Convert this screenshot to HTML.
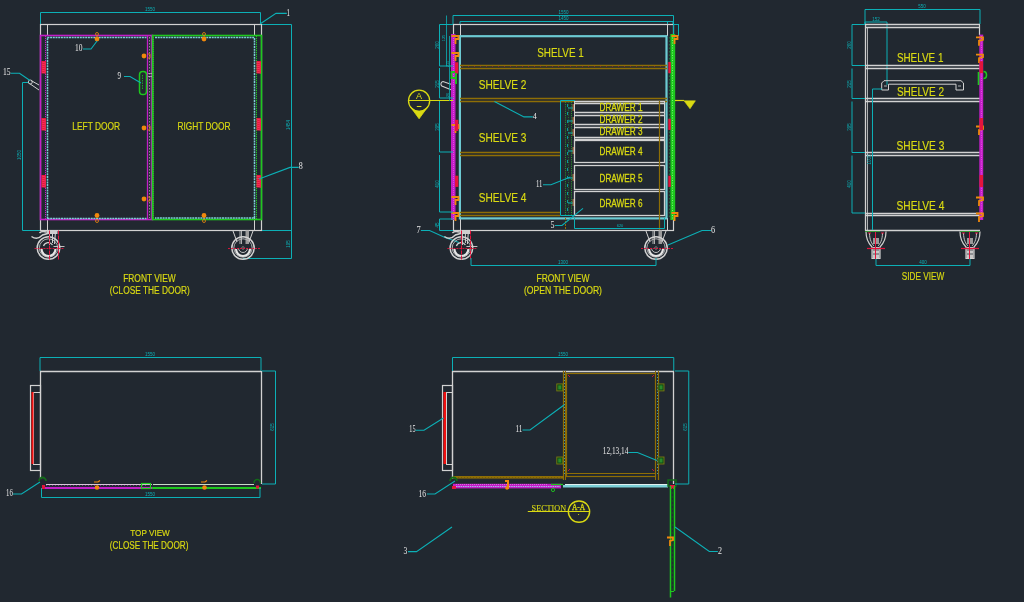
<!DOCTYPE html>
<html><head><meta charset="utf-8"><style>
html,body{margin:0;padding:0;background:#212830;width:1024px;height:602px;overflow:hidden}
svg{display:block;will-change:transform}
</style></head><body>
<svg width="1024" height="602" viewBox="0 0 1024 602">
<rect x="0" y="0" width="1024" height="602" fill="#212830"/>
<path d="M40.5,24 V12.5 H260.5 V24" stroke="#0cb0b6" stroke-width="1" fill="none" />
<text x="150" y="11" fill="#0cb0b6" font-size="4.5" font-family="Liberation Sans" text-anchor="middle" >1550</text>
<path d="M28,82.5 H22.5 V230.5 H40" stroke="#0cb0b6" stroke-width="1" fill="none" />
<text transform="translate(21,155) rotate(-90)" fill="#0cb0b6" font-size="4.5" font-family="Liberation Sans" text-anchor="middle">1050</text>
<path d="M262,24.5 H291.5 V258.5 H243 M262,230.5 H291.5" stroke="#0cb0b6" stroke-width="1" fill="none" />
<text transform="translate(290,125) rotate(-90)" fill="#0cb0b6" font-size="4.5" font-family="Liberation Sans" text-anchor="middle">1454</text>
<text transform="translate(290,244) rotate(-90)" fill="#0cb0b6" font-size="4.5" font-family="Liberation Sans" text-anchor="middle">195</text>
<rect x="40.5" y="24.5" width="221.0" height="206.0" stroke="#d2d2d2" stroke-width="1.2" fill="none" />
<line x1="47.5" y1="24.5" x2="47.5" y2="36" stroke="#d2d2d2" stroke-width="1" />
<line x1="47.5" y1="218" x2="47.5" y2="230.5" stroke="#d2d2d2" stroke-width="1" />
<line x1="254.5" y1="24.5" x2="254.5" y2="36" stroke="#d2d2d2" stroke-width="1" />
<line x1="254.5" y1="218" x2="254.5" y2="230.5" stroke="#d2d2d2" stroke-width="1" />
<rect x="40.5" y="35.5" width="112.0" height="184.0" stroke="#c21ec6" stroke-width="1.6" fill="none" />
<line x1="45.5" y1="36" x2="45.5" y2="219" stroke="#c21ec6" stroke-width="1" stroke-dasharray="1.2,0.8"/>
<path d="M47.5,218.5 V37.5 H146.5" stroke="#7ccfd6" stroke-width="1.5" fill="none" stroke-dasharray="2,0.7"/>
<line x1="47.5" y1="218.5" x2="146.5" y2="218.5" stroke="#7ccfd6" stroke-width="1.5" stroke-dasharray="2,0.7"/>
<line x1="147.5" y1="36" x2="147.5" y2="220" stroke="#c21ec6" stroke-width="1.3" />
<line x1="149.5" y1="37" x2="149.5" y2="218" stroke="#d2d2d2" stroke-width="0.6" stroke-dasharray="1.5,1.5"/>
<line x1="151.5" y1="36" x2="151.5" y2="220" stroke="#c21ec6" stroke-width="1.5" />
<rect x="152.5" y="35.5" width="109.0" height="184.0" stroke="#1ec81e" stroke-width="1.6" fill="none" />
<path d="M155,37.5 H254.5 V218 H155" stroke="#7ccfd6" stroke-width="1.5" fill="none" stroke-dasharray="2,0.7"/>
<line x1="153.5" y1="37" x2="153.5" y2="219" stroke="#1ec81e" stroke-width="1" stroke-dasharray="1.2,0.8"/>
<line x1="256.5" y1="36" x2="256.5" y2="219" stroke="#1ec81e" stroke-width="1" stroke-dasharray="1.2,0.8"/>
<rect x="41.5" y="61" width="4.5" height="12.5" fill="#e4143c" />
<path d="M41.5,62 l4.5,1.2 M41.5,64 l4.5,1.2 M41.5,66 l4.5,1.2 M41.5,68 l4.5,1.2 M41.5,70 l4.5,1.2 M41.5,72 l4.5,1.2" stroke="#ff5a7a" stroke-width="0.5" fill="none" />
<rect x="256.5" y="61" width="4.5" height="12.5" fill="#e4143c" />
<path d="M256.5,62 l4.5,1.2 M256.5,64 l4.5,1.2 M256.5,66 l4.5,1.2 M256.5,68 l4.5,1.2 M256.5,70 l4.5,1.2 M256.5,72 l4.5,1.2" stroke="#ff5a7a" stroke-width="0.5" fill="none" />
<rect x="41.5" y="118" width="4.5" height="12.5" fill="#e4143c" />
<path d="M41.5,119 l4.5,1.2 M41.5,121 l4.5,1.2 M41.5,123 l4.5,1.2 M41.5,125 l4.5,1.2 M41.5,127 l4.5,1.2 M41.5,129 l4.5,1.2" stroke="#ff5a7a" stroke-width="0.5" fill="none" />
<rect x="256.5" y="118" width="4.5" height="12.5" fill="#e4143c" />
<path d="M256.5,119 l4.5,1.2 M256.5,121 l4.5,1.2 M256.5,123 l4.5,1.2 M256.5,125 l4.5,1.2 M256.5,127 l4.5,1.2 M256.5,129 l4.5,1.2" stroke="#ff5a7a" stroke-width="0.5" fill="none" />
<rect x="41.5" y="175" width="4.5" height="12.5" fill="#e4143c" />
<path d="M41.5,176 l4.5,1.2 M41.5,178 l4.5,1.2 M41.5,180 l4.5,1.2 M41.5,182 l4.5,1.2 M41.5,184 l4.5,1.2 M41.5,186 l4.5,1.2" stroke="#ff5a7a" stroke-width="0.5" fill="none" />
<rect x="256.5" y="175" width="4.5" height="12.5" fill="#e4143c" />
<path d="M256.5,176 l4.5,1.2 M256.5,178 l4.5,1.2 M256.5,180 l4.5,1.2 M256.5,182 l4.5,1.2 M256.5,184 l4.5,1.2 M256.5,186 l4.5,1.2" stroke="#ff5a7a" stroke-width="0.5" fill="none" />
<circle cx="97" cy="39" r="2.4" stroke="#f0880c" stroke-width="0" fill="#f0880c" />
<circle cx="204" cy="39" r="2.4" stroke="#f0880c" stroke-width="0" fill="#f0880c" />
<circle cx="97" cy="215.5" r="2.4" stroke="#f0880c" stroke-width="0" fill="#f0880c" />
<circle cx="204" cy="215.5" r="2.4" stroke="#f0880c" stroke-width="0" fill="#f0880c" />
<circle cx="144" cy="56" r="2.4" stroke="#f0880c" stroke-width="0" fill="#f0880c" />
<circle cx="144" cy="128" r="2.4" stroke="#f0880c" stroke-width="0" fill="#f0880c" />
<circle cx="144" cy="199" r="2.4" stroke="#f0880c" stroke-width="0" fill="#f0880c" />
<circle cx="97" cy="34" r="1.5" stroke="#f0880c" stroke-width="0.8" fill="none" />
<circle cx="204" cy="34" r="1.5" stroke="#f0880c" stroke-width="0.8" fill="none" />
<circle cx="97" cy="221" r="1.5" stroke="#f0880c" stroke-width="0.8" fill="none" />
<circle cx="204" cy="221" r="1.5" stroke="#f0880c" stroke-width="0.8" fill="none" />
<path d="M147.5,54 h2.5 v4 h-2.5" stroke="#f0880c" stroke-width="0.8" fill="none" />
<path d="M147.5,126 h2.5 v4 h-2.5" stroke="#f0880c" stroke-width="0.8" fill="none" />
<path d="M147.5,197 h2.5 v4 h-2.5" stroke="#f0880c" stroke-width="0.8" fill="none" />
<rect x="139.5" y="71.5" width="7.0" height="23.0" stroke="#1ec81e" stroke-width="1.5" fill="none" rx="3.3"/>
<line x1="142.5" y1="75" x2="142.5" y2="90" stroke="#1ec81e" stroke-width="0.8" stroke-dasharray="1.5,1"/>
<path d="M148,73.5 h4 M148,76.5 h4" stroke="#d2d2d2" stroke-width="0.6" fill="none" />
<path d="M31,80.5 L39,85 M29.5,83.5 L39,90" stroke="#d2d2d2" stroke-width="1" fill="none" />
<circle cx="30.3" cy="82" r="2" stroke="#d2d2d2" stroke-width="0.9" fill="none" />
<text x="6.80" y="75.2" fill="#e6e6e6" font-size="9.39" font-family="Liberation Serif" text-anchor="middle" textLength="7.60" lengthAdjust="spacingAndGlyphs">15</text>
<path d="M10.6,73.2 L19.5,73.2 L30,80.5" stroke="#0cb0b6" stroke-width="1.1" fill="none" />
<text x="78.75" y="51.3" fill="#e6e6e6" font-size="9.39" font-family="Liberation Serif" text-anchor="middle" textLength="7.50" lengthAdjust="spacingAndGlyphs">10</text>
<path d="M83,49 L91,49 L97,41" stroke="#0cb0b6" stroke-width="1.1" fill="none" />
<text x="119.25" y="79" fill="#e6e6e6" font-size="9.39" font-family="Liberation Serif" text-anchor="middle" textLength="3.50" lengthAdjust="spacingAndGlyphs">9</text>
<path d="M124,76.5 L130,76.5 L141,83" stroke="#0cb0b6" stroke-width="1.1" fill="none" />
<text x="288.35" y="15.9" fill="#e6e6e6" font-size="9.39" font-family="Liberation Serif" text-anchor="middle" textLength="3.50" lengthAdjust="spacingAndGlyphs">1</text>
<path d="M260,24 L276,13.4 L286.8,13.4" stroke="#0cb0b6" stroke-width="1.1" fill="none" />
<text x="300.70" y="168.9" fill="#e6e6e6" font-size="9.39" font-family="Liberation Serif" text-anchor="middle" textLength="4.00" lengthAdjust="spacingAndGlyphs">8</text>
<path d="M259,179 L290,167.4 L298.7,167.4" stroke="#0cb0b6" stroke-width="1.1" fill="none" />
<circle cx="48.5" cy="248" r="11.3" stroke="#d2d2d2" stroke-width="1.5" fill="none" />
<circle cx="48.5" cy="248" r="9.2" stroke="#bdbdbd" stroke-width="0.9" fill="none" />
<path d="M41.5,249 A7,7 0 0 0 55.5,249" stroke="#e6e6e6" stroke-width="2.2" fill="none" />
<path d="M43.5,246 A5,5 0 0 1 52.5,245" stroke="#d2d2d2" stroke-width="1.2" fill="none" />
<path d="M49.5,230.5 V245 M52.5,230.5 V243 M55.5,231.5 L54.5,244" stroke="#d2d2d2" stroke-width="1" fill="none" />
<rect x="46.5" y="230.5" width="11" height="3.5" fill="#cfcfcf" />
<path d="M31.5,236.5 Q37.5,240.5 42.5,235 L49.5,233 M39.5,233 Q41.5,230.5 46.5,232" stroke="#d2d2d2" stroke-width="1.5" fill="none" />
<line x1="53.5" y1="246.5" x2="64.5" y2="246.5" stroke="#d2d2d2" stroke-width="0.9" />
<line x1="34.5" y1="248.5" x2="64.5" y2="248.5" stroke="#e4143c" stroke-width="0.9" stroke-dasharray="2,1"/>
<line x1="49.5" y1="230.5" x2="49.5" y2="260" stroke="#e4143c" stroke-width="1" stroke-dasharray="4,1"/>
<line x1="58.5" y1="230.5" x2="58.5" y2="260" stroke="#e4143c" stroke-width="1" stroke-dasharray="4,1"/>
<path d="M233,231.0 L237,242 M253,231.0 L249,242" stroke="#d2d2d2" stroke-width="1" fill="none" />
<path d="M240,230.5 V244 M241.5,230.5 V244" stroke="#d2d2d2" stroke-width="0.8" fill="none" />
<rect x="245.5" y="230.5" width="3.5" height="13.5" fill="#9a9a9a" />
<circle cx="243" cy="248" r="11.2" stroke="#d2d2d2" stroke-width="1.5" fill="none" />
<circle cx="243" cy="248" r="9.2" stroke="#bdbdbd" stroke-width="0.9" fill="none" />
<path d="M236,249 A7,7 0 0 0 250,249" stroke="#e6e6e6" stroke-width="2.2" fill="none" />
<path d="M238.5,248 A4.5,4.5 0 0 0 247.5,248" stroke="#d2d2d2" stroke-width="0.9" fill="none" />
<circle cx="243" cy="248" r="1.3" stroke="#888" stroke-width="0.8" fill="none" />
<line x1="228" y1="248.5" x2="261" y2="248.5" stroke="#e4143c" stroke-width="0.9" stroke-dasharray="2,1"/>
<text x="96.20" y="129.70" fill="#dada12" stroke="#dada12" stroke-width="0.18" font-size="11.19" font-family="Liberation Sans" text-anchor="middle" textLength="47.80" lengthAdjust="spacingAndGlyphs">LEFT DOOR</text>
<text x="203.95" y="129.70" fill="#dada12" stroke="#dada12" stroke-width="0.18" font-size="11.19" font-family="Liberation Sans" text-anchor="middle" textLength="53.10" lengthAdjust="spacingAndGlyphs">RIGHT DOOR</text>
<text x="149.45" y="281.70" fill="#dada12" stroke="#dada12" stroke-width="0.18" font-size="10.76" font-family="Liberation Sans" text-anchor="middle" textLength="52.50" lengthAdjust="spacingAndGlyphs">FRONT VIEW</text>
<g>
<text x="149.80" y="293.90" fill="#dada12" stroke="#dada12" stroke-width="0.18" font-size="10.61" font-family="Liberation Sans" text-anchor="middle" textLength="80.00" lengthAdjust="spacingAndGlyphs">(CLOSE THE DOOR)</text>
</g>
<path d="M453,24 V15.5 H673.5 V24" stroke="#0cb0b6" stroke-width="1" fill="none" />
<path d="M460,24 V21.5 H673 V24" stroke="#0cb0b6" stroke-width="1" fill="none" />
<line x1="667.5" y1="21.5" x2="667.5" y2="24" stroke="#0cb0b6" stroke-width="1" />
<text x="563.5" y="14" fill="#0cb0b6" font-size="4.5" font-family="Liberation Sans" text-anchor="middle" >1550</text>
<text x="563.5" y="20.4" fill="#0cb0b6" font-size="4.5" font-family="Liberation Sans" text-anchor="middle" >1450</text>
<rect x="453.5" y="24.5" width="220.0" height="206.0" stroke="#d2d2d2" stroke-width="1.2" fill="none" />
<line x1="460.5" y1="24.5" x2="460.5" y2="36" stroke="#d2d2d2" stroke-width="1" />
<line x1="460.5" y1="218" x2="460.5" y2="230.5" stroke="#d2d2d2" stroke-width="1" />
<line x1="667.5" y1="24.5" x2="667.5" y2="36" stroke="#d2d2d2" stroke-width="1" />
<line x1="667.5" y1="218" x2="667.5" y2="230.5" stroke="#d2d2d2" stroke-width="1" />
<rect x="459.9" y="36.2" width="206.6" height="182.2" stroke="#6ccad2" stroke-width="2.2" fill="none" />
<rect x="673.5" y="24.5" width="5.0" height="11.0" stroke="#0cb0b6" stroke-width="1" fill="none" />
<line x1="460" y1="65.5" x2="667" y2="65.5" stroke="#8e6e06" stroke-width="1.3" />
<line x1="460" y1="68.5" x2="667" y2="68.5" stroke="#8e6e06" stroke-width="1.3" />
<line x1="460" y1="98.5" x2="667" y2="98.5" stroke="#8e6e06" stroke-width="1.3" />
<line x1="460" y1="101.5" x2="667" y2="101.5" stroke="#8e6e06" stroke-width="1.3" />
<line x1="462" y1="66.5" x2="665" y2="66.5" stroke="#c02040" stroke-width="0.5" stroke-dasharray="1,5"/>
<line x1="460" y1="152.5" x2="560" y2="152.5" stroke="#8e6e06" stroke-width="1.3" />
<line x1="460" y1="155.5" x2="560" y2="155.5" stroke="#8e6e06" stroke-width="1.3" />
<line x1="460" y1="212.5" x2="560" y2="212.5" stroke="#8e6e06" stroke-width="1.3" />
<line x1="460" y1="215.5" x2="560" y2="215.5" stroke="#8e6e06" stroke-width="1.3" />
<path d="M575,215.5 H560.5 V100.5 H575" stroke="#0cb0b6" stroke-width="1" fill="none" />
<line x1="565.5" y1="102" x2="565.5" y2="215" stroke="#2a9a2a" stroke-width="1" stroke-dasharray="1,1.2"/>
<line x1="568.5" y1="102" x2="568.5" y2="215" stroke="#1e7a2a" stroke-width="1" stroke-dasharray="1,1.5"/>
<line x1="571.5" y1="102" x2="571.5" y2="215" stroke="#2a9a2a" stroke-width="1" stroke-dasharray="1,1.2"/>
<line x1="567.5" y1="104" x2="567.5" y2="214" stroke="#0cb0b6" stroke-width="0.8" stroke-dasharray="3,5"/>
<path d="M568,108 h5" stroke="#0cb0b6" stroke-width="1" fill="none" />
<rect x="572.5" y="104" width="2.5" height="7" fill="#c8804a" opacity="0.7"/>
<path d="M568,121 h5" stroke="#0cb0b6" stroke-width="1" fill="none" />
<rect x="572.5" y="117" width="2.5" height="7" fill="#c8804a" opacity="0.7"/>
<path d="M568,133 h5" stroke="#0cb0b6" stroke-width="1" fill="none" />
<rect x="572.5" y="129" width="2.5" height="7" fill="#c8804a" opacity="0.7"/>
<path d="M568,151 h5" stroke="#0cb0b6" stroke-width="1" fill="none" />
<rect x="572.5" y="147" width="2.5" height="7" fill="#c8804a" opacity="0.7"/>
<path d="M568,178 h5" stroke="#0cb0b6" stroke-width="1" fill="none" />
<rect x="572.5" y="174" width="2.5" height="7" fill="#c8804a" opacity="0.7"/>
<path d="M568,203 h5" stroke="#0cb0b6" stroke-width="1" fill="none" />
<rect x="572.5" y="199" width="2.5" height="7" fill="#c8804a" opacity="0.7"/>
<line x1="575" y1="101.5" x2="665" y2="101.5" stroke="#d2d2d2" stroke-width="1.5" />
<line x1="575" y1="103.5" x2="665" y2="103.5" stroke="#d2d2d2" stroke-width="1.5" />
<line x1="575" y1="112.5" x2="665" y2="112.5" stroke="#d2d2d2" stroke-width="1.5" />
<line x1="575" y1="115.5" x2="665" y2="115.5" stroke="#d2d2d2" stroke-width="1.5" />
<line x1="575" y1="124.5" x2="665" y2="124.5" stroke="#d2d2d2" stroke-width="1.5" />
<line x1="575" y1="127.5" x2="665" y2="127.5" stroke="#d2d2d2" stroke-width="1.5" />
<line x1="575" y1="137.5" x2="665" y2="137.5" stroke="#d2d2d2" stroke-width="1.5" />
<line x1="575" y1="139.5" x2="665" y2="139.5" stroke="#d2d2d2" stroke-width="1.5" />
<rect x="574.5" y="140.5" width="90.0" height="22.0" stroke="#d2d2d2" stroke-width="1.3" fill="none" />
<rect x="574.5" y="165.5" width="90.0" height="24.0" stroke="#d2d2d2" stroke-width="1.3" fill="none" />
<rect x="574.5" y="191.5" width="90.0" height="24.0" stroke="#d2d2d2" stroke-width="1.3" fill="none" />
<line x1="574.5" y1="101" x2="574.5" y2="140" stroke="#d2d2d2" stroke-width="1" />
<line x1="664.5" y1="101" x2="664.5" y2="140" stroke="#d2d2d2" stroke-width="1" />
<line x1="659.5" y1="101" x2="659.5" y2="230" stroke="#8e6e06" stroke-width="1.2" />
<line x1="565.5" y1="218" x2="565.5" y2="230" stroke="#8e6e06" stroke-width="1" stroke-dasharray="2,1"/>
<path d="M574.5,218 V228.5 H664.5 V218" stroke="#0cb0b6" stroke-width="1" fill="none" />
<text x="620" y="227.2" fill="#0cb0b6" font-size="4" font-family="Liberation Sans" text-anchor="middle" >620</text>
<rect x="451" y="34" width="4.5" height="186" fill="#c21ec6" />
<line x1="453.5" y1="36" x2="453.5" y2="219" stroke="#ff60ff" stroke-width="0.6" stroke-dasharray="1,1"/>
<rect x="670.4" y="34" width="4.8" height="186" fill="#1ec81e" />
<line x1="672.5" y1="35" x2="672.5" y2="220" stroke="#8aff8a" stroke-width="0.8" stroke-dasharray="1,1.5"/>
<line x1="669.5" y1="37" x2="669.5" y2="217" stroke="#1a6a3a" stroke-width="1.2" stroke-dasharray="1.5,2"/>
<path d="M451.5,36 h7 v3 h-3 v5" stroke="#f0880c" stroke-width="1.8" fill="none" />
<path d="M451.5,53 h7 v3 h-3 v5" stroke="#f0880c" stroke-width="1.8" fill="none" />
<path d="M451.5,125 h7 v3 h-3 v5" stroke="#f0880c" stroke-width="1.8" fill="none" />
<path d="M451.5,197 h7 v3 h-3 v5" stroke="#f0880c" stroke-width="1.8" fill="none" />
<path d="M451.5,213 h7 v3 h-3 v5" stroke="#f0880c" stroke-width="1.8" fill="none" />
<path d="M671.5,36 h6 v3 h-3 v5" stroke="#f0880c" stroke-width="1.8" fill="none" />
<path d="M671.5,213 h6 v3 h-3 v5" stroke="#f0880c" stroke-width="1.8" fill="none" />
<rect x="455" y="62.3" width="3.3" height="11.2" fill="#e4143c" />
<rect x="455" y="119.8" width="3.3" height="11.2" fill="#e4143c" />
<rect x="455" y="175.7" width="3.3" height="11.2" fill="#e4143c" />
<rect x="668.3" y="62" width="2.5" height="11.2" fill="#e4143c" />
<rect x="668.3" y="118.75" width="2.5" height="11.2" fill="#e4143c" />
<rect x="668.3" y="175.7" width="2.5" height="11.2" fill="#e4143c" />
<path d="M455,72 h-3.5 v6 h3.5 M456,73 v11" stroke="#1ec81e" stroke-width="1.8" fill="none" />
<path d="M451,84.3 L443,81.5 A2.6,2.6 0 0 0 441.8,86 L451,89.7" stroke="#d2d2d2" stroke-width="1.1" fill="none" />
<line x1="408" y1="100.5" x2="453" y2="100.5" stroke="#dada12" stroke-width="1.2" />
<line x1="675" y1="100.5" x2="684" y2="100.5" stroke="#dada12" stroke-width="1.2" />
<circle cx="419.1" cy="100.8" r="10.6" stroke="#dada12" stroke-width="1.3" fill="none" />
<path d="M410.55,107.06 A10.6,10.6 0 0 0 427.65,107.06 L419.1,118.75 Z" stroke="#dada12" stroke-width="0.8" fill="#dada12" />
<path d="M684,100.8 L695.4,100.8 L690,108.75 Z" stroke="#dada12" stroke-width="0.6" fill="#dada12" />
<text x="419.1" y="98.75" fill="#dada12" font-size="9" font-family="Liberation Sans" text-anchor="middle" textLength="5">A</text>
<line x1="416.8" y1="106.5" x2="421.4" y2="106.5" stroke="#dada12" stroke-width="1" />
<path d="M453,24.5 H439.5 V66 H453 M439.5,68 V98 H453 M439.5,101 V152 H453 M439.5,155 V212 H453 M453,219 H439.5 V230.5 H453" stroke="#0cb0b6" stroke-width="1" fill="none" />
<line x1="446.5" y1="15.5" x2="446.5" y2="66" stroke="#0cb0b6" stroke-width="0.8" />
<line x1="449.5" y1="36" x2="449.5" y2="101" stroke="#0cb0b6" stroke-width="0.8" />
<text transform="translate(438.5,45) rotate(-90)" fill="#0cb0b6" font-size="4.5" font-family="Liberation Sans" text-anchor="middle">260</text>
<text transform="translate(438.5,84) rotate(-90)" fill="#0cb0b6" font-size="4.5" font-family="Liberation Sans" text-anchor="middle">215</text>
<text transform="translate(438.5,127) rotate(-90)" fill="#0cb0b6" font-size="4.5" font-family="Liberation Sans" text-anchor="middle">395</text>
<text transform="translate(438.5,184) rotate(-90)" fill="#0cb0b6" font-size="4.5" font-family="Liberation Sans" text-anchor="middle">410</text>
<text transform="translate(438.5,225) rotate(-90)" fill="#0cb0b6" font-size="4.5" font-family="Liberation Sans" text-anchor="middle">45</text>
<text transform="translate(445,38) rotate(-90)" fill="#0cb0b6" font-size="4" font-family="Liberation Sans" text-anchor="middle">125</text>
<text transform="translate(448.5,64) rotate(-90)" fill="#0cb0b6" font-size="4" font-family="Liberation Sans" text-anchor="middle">215</text>
<text transform="translate(448.5,95) rotate(-90)" fill="#0cb0b6" font-size="4" font-family="Liberation Sans" text-anchor="middle">26</text>
<text x="418.50" y="232.6" fill="#e6e6e6" font-size="9.39" font-family="Liberation Serif" text-anchor="middle" textLength="4.20" lengthAdjust="spacingAndGlyphs">7</text>
<path d="M420.9,230.5 L429.6,230.5 L445,237.4 L459,242.6" stroke="#0cb0b6" stroke-width="1.1" fill="none" />
<text x="534.85" y="119.2" fill="#e6e6e6" font-size="8.03" font-family="Liberation Serif" text-anchor="middle" textLength="4.10" lengthAdjust="spacingAndGlyphs">4</text>
<path d="M494.4,101.5 L524,116.9 L532.8,116.9" stroke="#0cb0b6" stroke-width="1.1" fill="none" />
<text x="539.25" y="187.4" fill="#e6e6e6" font-size="9.39" font-family="Liberation Serif" text-anchor="middle" textLength="6.50" lengthAdjust="spacingAndGlyphs">11</text>
<path d="M543,184.7 L551,184.7 L570.4,177" stroke="#0cb0b6" stroke-width="1.1" fill="none" />
<text x="552.50" y="227.6" fill="#e6e6e6" font-size="9.39" font-family="Liberation Serif" text-anchor="middle" textLength="4.00" lengthAdjust="spacingAndGlyphs">5</text>
<path d="M555,225.5 L562,225.5 L583,208.4" stroke="#0cb0b6" stroke-width="1.1" fill="none" />
<text x="713.05" y="232.8" fill="#e6e6e6" font-size="10.00" font-family="Liberation Serif" text-anchor="middle" textLength="4.10" lengthAdjust="spacingAndGlyphs">6</text>
<path d="M668,245 L702,230.5 L711,230.5" stroke="#0cb0b6" stroke-width="1.1" fill="none" />
<circle cx="461.4" cy="248" r="11.3" stroke="#d2d2d2" stroke-width="1.5" fill="none" />
<circle cx="461.4" cy="248" r="9.2" stroke="#bdbdbd" stroke-width="0.9" fill="none" />
<path d="M454.4,249 A7,7 0 0 0 468.4,249" stroke="#e6e6e6" stroke-width="2.2" fill="none" />
<path d="M456.4,246 A5,5 0 0 1 465.4,245" stroke="#d2d2d2" stroke-width="1.2" fill="none" />
<path d="M462.4,230.5 V245 M465.4,230.5 V243 M468.4,231.5 L467.4,244" stroke="#d2d2d2" stroke-width="1" fill="none" />
<rect x="459.4" y="230.5" width="11" height="3.5" fill="#cfcfcf" />
<path d="M444.4,236.5 Q450.4,240.5 455.4,235 L462.4,233 M452.4,233 Q454.4,230.5 459.4,232" stroke="#d2d2d2" stroke-width="1.5" fill="none" />
<line x1="466.4" y1="246.5" x2="477.4" y2="246.5" stroke="#d2d2d2" stroke-width="0.9" />
<line x1="447.4" y1="248.5" x2="477.4" y2="248.5" stroke="#e4143c" stroke-width="0.9" stroke-dasharray="2,1"/>
<line x1="461.5" y1="230.5" x2="461.5" y2="260" stroke="#e4143c" stroke-width="1" stroke-dasharray="4,1"/>
<line x1="470.5" y1="230.5" x2="470.5" y2="260" stroke="#e4143c" stroke-width="1" stroke-dasharray="4,1"/>
<path d="M646,231.0 L650,242 M666,231.0 L662,242" stroke="#d2d2d2" stroke-width="1" fill="none" />
<path d="M653,230.5 V244 M654.5,230.5 V244" stroke="#d2d2d2" stroke-width="0.8" fill="none" />
<rect x="658.5" y="230.5" width="3.5" height="13.5" fill="#9a9a9a" />
<circle cx="656" cy="248" r="11.2" stroke="#d2d2d2" stroke-width="1.5" fill="none" />
<circle cx="656" cy="248" r="9.2" stroke="#bdbdbd" stroke-width="0.9" fill="none" />
<path d="M649,249 A7,7 0 0 0 663,249" stroke="#e6e6e6" stroke-width="2.2" fill="none" />
<path d="M651.5,248 A4.5,4.5 0 0 0 660.5,248" stroke="#d2d2d2" stroke-width="0.9" fill="none" />
<circle cx="656" cy="248" r="1.3" stroke="#888" stroke-width="0.8" fill="none" />
<line x1="641" y1="248.5" x2="674" y2="248.5" stroke="#e4143c" stroke-width="0.9" stroke-dasharray="2,1"/>
<path d="M471,258 V265.5 H656 V258" stroke="#0cb0b6" stroke-width="1" fill="none" />
<text x="563" y="264" fill="#0cb0b6" font-size="4.5" font-family="Liberation Sans" text-anchor="middle" >1300</text>
<text x="560.50" y="56.80" fill="#dada12" stroke="#dada12" stroke-width="0.18" font-size="12.94" font-family="Liberation Sans" text-anchor="middle" textLength="46.60" lengthAdjust="spacingAndGlyphs">SHELVE 1</text>
<text x="502.55" y="88.70" fill="#dada12" stroke="#dada12" stroke-width="0.18" font-size="12.35" font-family="Liberation Sans" text-anchor="middle" textLength="47.70" lengthAdjust="spacingAndGlyphs">SHELVE 2</text>
<text x="502.55" y="141.50" fill="#dada12" stroke="#dada12" stroke-width="0.18" font-size="12.21" font-family="Liberation Sans" text-anchor="middle" textLength="47.70" lengthAdjust="spacingAndGlyphs">SHELVE 3</text>
<text x="502.55" y="202.00" fill="#dada12" stroke="#dada12" stroke-width="0.18" font-size="12.35" font-family="Liberation Sans" text-anchor="middle" textLength="47.70" lengthAdjust="spacingAndGlyphs">SHELVE 4</text>
<text x="621.00" y="111.30" fill="#dada12" stroke="#dada12" stroke-width="0.3" font-size="10.03" font-family="Liberation Sans" text-anchor="middle" textLength="43.00" lengthAdjust="spacingAndGlyphs">DRAWER 1</text>
<text x="621.00" y="122.90" fill="#dada12" stroke="#dada12" stroke-width="0.3" font-size="10.03" font-family="Liberation Sans" text-anchor="middle" textLength="43.00" lengthAdjust="spacingAndGlyphs">DRAWER 2</text>
<text x="621.00" y="134.90" fill="#dada12" stroke="#dada12" stroke-width="0.3" font-size="10.03" font-family="Liberation Sans" text-anchor="middle" textLength="43.00" lengthAdjust="spacingAndGlyphs">DRAWER 3</text>
<text x="621.00" y="154.60" fill="#dada12" stroke="#dada12" stroke-width="0.3" font-size="11.48" font-family="Liberation Sans" text-anchor="middle" textLength="43.00" lengthAdjust="spacingAndGlyphs">DRAWER 4</text>
<text x="621.00" y="181.90" fill="#dada12" stroke="#dada12" stroke-width="0.3" font-size="11.34" font-family="Liberation Sans" text-anchor="middle" textLength="43.00" lengthAdjust="spacingAndGlyphs">DRAWER 5</text>
<text x="621.00" y="206.80" fill="#dada12" stroke="#dada12" stroke-width="0.3" font-size="11.34" font-family="Liberation Sans" text-anchor="middle" textLength="43.00" lengthAdjust="spacingAndGlyphs">DRAWER 6</text>
<text x="563.00" y="281.70" fill="#dada12" stroke="#dada12" stroke-width="0.18" font-size="10.76" font-family="Liberation Sans" text-anchor="middle" textLength="53.00" lengthAdjust="spacingAndGlyphs">FRONT VIEW</text>
<text x="563.00" y="293.90" fill="#dada12" stroke="#dada12" stroke-width="0.18" font-size="10.61" font-family="Liberation Sans" text-anchor="middle" textLength="78.00" lengthAdjust="spacingAndGlyphs">(OPEN THE DOOR)</text>
<path d="M865,24 V9.5 H980 V24" stroke="#0cb0b6" stroke-width="1" fill="none" />
<text x="922" y="8" fill="#0cb0b6" font-size="4.5" font-family="Liberation Sans" text-anchor="middle" >550</text>
<path d="M865,24 V22 H887 V85" stroke="#0cb0b6" stroke-width="1" fill="none" />
<text x="876" y="20.5" fill="#0cb0b6" font-size="4.5" font-family="Liberation Sans" text-anchor="middle" >152</text>
<line x1="865" y1="24.5" x2="980" y2="24.5" stroke="#d2d2d2" stroke-width="1.3" />
<line x1="865" y1="27.5" x2="980" y2="27.5" stroke="#d2d2d2" stroke-width="1.3" />
<line x1="865" y1="65.5" x2="980" y2="65.5" stroke="#d2d2d2" stroke-width="1.3" />
<line x1="865" y1="68.5" x2="980" y2="68.5" stroke="#d2d2d2" stroke-width="1.3" />
<line x1="865" y1="98.5" x2="980" y2="98.5" stroke="#d2d2d2" stroke-width="1.3" />
<line x1="865" y1="101.5" x2="980" y2="101.5" stroke="#d2d2d2" stroke-width="1.3" />
<line x1="865" y1="152.5" x2="980" y2="152.5" stroke="#d2d2d2" stroke-width="1.3" />
<line x1="865" y1="155.5" x2="980" y2="155.5" stroke="#d2d2d2" stroke-width="1.3" />
<line x1="865" y1="213.5" x2="980" y2="213.5" stroke="#d2d2d2" stroke-width="1.3" />
<line x1="865" y1="215.5" x2="980" y2="215.5" stroke="#d2d2d2" stroke-width="1.3" />
<line x1="865" y1="230.5" x2="980" y2="230.5" stroke="#d2d2d2" stroke-width="1.3" />
<line x1="865.5" y1="24.5" x2="865.5" y2="230.5" stroke="#d2d2d2" stroke-width="1.3" />
<line x1="867.5" y1="27" x2="867.5" y2="230.5" stroke="#d2d2d2" stroke-width="0.8" />
<line x1="979.5" y1="24.5" x2="979.5" y2="35" stroke="#d2d2d2" stroke-width="1.2" />
<rect x="979.3" y="34.6" width="3.9" height="185.4" fill="#c21ec6" />
<line x1="981.5" y1="36" x2="981.5" y2="219" stroke="#ff70ff" stroke-width="0.6" stroke-dasharray="1,1.2"/>
<path d="M976,37.3 h7 v2.5 l-4,1 v5" stroke="#f0880c" stroke-width="1.8" fill="none" />
<path d="M976,54.6 h7 v2.5 l-4,1 v5" stroke="#f0880c" stroke-width="1.8" fill="none" />
<path d="M976,126.5 h7 v2.5 l-4,1 v5" stroke="#f0880c" stroke-width="1.8" fill="none" />
<path d="M976,197.5 h7 v2.5 l-4,1 v5" stroke="#f0880c" stroke-width="1.8" fill="none" />
<path d="M976,213.5 h7 v2.5 l-4,1 v5" stroke="#f0880c" stroke-width="1.8" fill="none" />
<rect x="979.5" y="61.2" width="3.5" height="12" fill="#e4143c" />
<rect x="979.5" y="118" width="3.5" height="12" fill="#e4143c" />
<rect x="979.5" y="175" width="3.5" height="12" fill="#e4143c" />
<path d="M978.5,72 V85 M983.5,71.5 a3,3.5 0 0 1 0,7" stroke="#1ec81e" stroke-width="1.6" fill="none" />
<path d="M881.7,90 V83 L884,80.7 H961 L963.5,83 V90 H956 V84.2 H888.5 V90 Z" stroke="#d2d2d2" stroke-width="1" fill="none" />
<path d="M884,86 h3 M958,86 h3" stroke="#d2d2d2" stroke-width="0.8" fill="none" />
<path d="M865,24.5 H852 V65.5 H865 M852,68.5 V98.5 H865 M852,101.5 V152.5 H865 M852,155.5 V213 H865" stroke="#0cb0b6" stroke-width="1" fill="none" />
<path d="M872.5,230 V89 H882" stroke="#0cb0b6" stroke-width="1" fill="none" />
<text transform="translate(851,45) rotate(-90)" fill="#0cb0b6" font-size="4.5" font-family="Liberation Sans" text-anchor="middle">260</text>
<text transform="translate(851,84) rotate(-90)" fill="#0cb0b6" font-size="4.5" font-family="Liberation Sans" text-anchor="middle">215</text>
<text transform="translate(851,127) rotate(-90)" fill="#0cb0b6" font-size="4.5" font-family="Liberation Sans" text-anchor="middle">395</text>
<text transform="translate(851,184) rotate(-90)" fill="#0cb0b6" font-size="4.5" font-family="Liberation Sans" text-anchor="middle">410</text>
<text transform="translate(871,159.4) rotate(-90)" fill="#0cb0b6" font-size="4.5" font-family="Liberation Sans" text-anchor="middle">1000</text>
<path d="M866,231.5 C866,240 869,244 872,247 L872,258.5 L880,258.5 L880,247 C883,244 886,240 886,231.5" stroke="#d2d2d2" stroke-width="1.2" fill="none" />
<path d="M869.5,233 C869.5,240 872,244 874,246 M882.5,233 C882.5,240 880,244 878,246" stroke="#d2d2d2" stroke-width="0.9" fill="none" />
<rect x="873" y="238" width="6" height="6" fill="#9a9a9a" />
<rect x="872.5" y="247" width="7" height="11" fill="#c8c8c8" />
<path d="M873,250 h6 M873,254 h6" stroke="#212830" stroke-width="0.7" fill="none" />
<line x1="875.5" y1="231" x2="875.5" y2="259" stroke="#e4143c" stroke-width="1" />
<line x1="867" y1="248.5" x2="885" y2="248.5" stroke="#e4143c" stroke-width="1.2" />
<path d="M868,233 h3 M881,233 h3" stroke="#e4143c" stroke-width="1" fill="none" />
<path d="M960,231.5 C960,240 963,244 966,247 L966,258.5 L974,258.5 L974,247 C977,244 980,240 980,231.5" stroke="#d2d2d2" stroke-width="1.2" fill="none" />
<path d="M963.5,233 C963.5,240 966,244 968,246 M976.5,233 C976.5,240 974,244 972,246" stroke="#d2d2d2" stroke-width="0.9" fill="none" />
<rect x="967" y="238" width="6" height="6" fill="#9a9a9a" />
<rect x="966.5" y="247" width="7" height="11" fill="#c8c8c8" />
<path d="M967,250 h6 M967,254 h6" stroke="#212830" stroke-width="0.7" fill="none" />
<line x1="969.5" y1="231" x2="969.5" y2="259" stroke="#e4143c" stroke-width="1" />
<line x1="961" y1="248.5" x2="979" y2="248.5" stroke="#e4143c" stroke-width="1.2" />
<path d="M962,233 h3 M975,233 h3" stroke="#e4143c" stroke-width="1" fill="none" />
<line x1="865" y1="231.5" x2="880" y2="231.5" stroke="#3a9a3a" stroke-width="1" />
<line x1="960" y1="231.5" x2="980" y2="231.5" stroke="#3a9a3a" stroke-width="1" />
<path d="M876,259 V265.5 H970 V259" stroke="#0cb0b6" stroke-width="1" fill="none" />
<text x="923" y="264" fill="#0cb0b6" font-size="4.5" font-family="Liberation Sans" text-anchor="middle" >400</text>
<text x="920.15" y="62.10" fill="#dada12" stroke="#dada12" stroke-width="0.18" font-size="12.21" font-family="Liberation Sans" text-anchor="middle" textLength="46.50" lengthAdjust="spacingAndGlyphs">SHELVE 1</text>
<text x="920.45" y="95.80" fill="#dada12" stroke="#dada12" stroke-width="0.18" font-size="12.65" font-family="Liberation Sans" text-anchor="middle" textLength="47.10" lengthAdjust="spacingAndGlyphs">SHELVE 2</text>
<text x="920.45" y="149.50" fill="#dada12" stroke="#dada12" stroke-width="0.18" font-size="12.35" font-family="Liberation Sans" text-anchor="middle" textLength="47.90" lengthAdjust="spacingAndGlyphs">SHELVE 3</text>
<text x="920.45" y="210.30" fill="#dada12" stroke="#dada12" stroke-width="0.18" font-size="12.35" font-family="Liberation Sans" text-anchor="middle" textLength="47.90" lengthAdjust="spacingAndGlyphs">SHELVE 4</text>
<text x="923.10" y="279.50" fill="#dada12" stroke="#dada12" stroke-width="0.18" font-size="11.63" font-family="Liberation Sans" text-anchor="middle" textLength="42.60" lengthAdjust="spacingAndGlyphs">SIDE VIEW</text>
<path d="M40,371 V357.5 H261 V371" stroke="#0cb0b6" stroke-width="1" fill="none" />
<text x="150" y="356" fill="#0cb0b6" font-size="4.5" font-family="Liberation Sans" text-anchor="middle" >1550</text>
<line x1="40" y1="371.5" x2="261" y2="371.5" stroke="#d2d2d2" stroke-width="1.3" />
<line x1="40.5" y1="371" x2="40.5" y2="479" stroke="#d2d2d2" stroke-width="1.3" />
<line x1="261.5" y1="371" x2="261.5" y2="484" stroke="#d2d2d2" stroke-width="1.3" />
<rect x="30.5" y="385.5" width="10.0" height="85.0" stroke="#d2d2d2" stroke-width="1.2" fill="none" />
<rect x="33.5" y="392.5" width="7.0" height="72.0" stroke="#d2d2d2" stroke-width="1" fill="none" />
<line x1="32.5" y1="392" x2="32.5" y2="464" stroke="#f01010" stroke-width="2" />
<rect x="42" y="487" width="110" height="2" fill="#c21ec6" />
<rect x="152" y="487" width="109" height="2" fill="#1ec81e" />
<line x1="46" y1="484.5" x2="152" y2="484.5" stroke="#d8c8d8" stroke-width="1.2" />
<line x1="46" y1="485.5" x2="148" y2="485.5" stroke="#c21ec6" stroke-width="0.6" stroke-dasharray="1,2"/>
<line x1="153" y1="484.5" x2="254" y2="484.5" stroke="#c8dcc8" stroke-width="1.2" />
<path d="M39,481 a3.5,3.5 0 1 1 7,0" stroke="#126a18" stroke-width="1.8" fill="none" />
<rect x="42" y="485" width="3" height="4" fill="#e4143c" />
<path d="M94,482 h4 l2,-1.5" stroke="#f0880c" stroke-width="1.2" fill="none" />
<circle cx="97" cy="487.5" r="2.3" stroke="#f0880c" stroke-width="0" fill="#f0880c" />
<path d="M201,482 h4 l2,-1.5" stroke="#f0880c" stroke-width="1.2" fill="none" />
<circle cx="204.5" cy="487.5" r="2.3" stroke="#f0880c" stroke-width="0" fill="#f0880c" />
<rect x="141.5" y="483.5" width="9.0" height="5.0" stroke="#1ec81e" stroke-width="1.2" fill="none" />
<path d="M254,483 a3.2,3.5 0 1 1 6.4,0" stroke="#126a18" stroke-width="1.6" fill="none" />
<rect x="256" y="485.5" width="3" height="3" fill="#e4143c" />
<path d="M41.5,488 V497.5 H260 V488" stroke="#0cb0b6" stroke-width="1" fill="none" />
<text x="150" y="496" fill="#0cb0b6" font-size="4.5" font-family="Liberation Sans" text-anchor="middle" >1550</text>
<path d="M262,371 H275.5 V484 H262" stroke="#0cb0b6" stroke-width="1" fill="none" />
<text transform="translate(274,427) rotate(-90)" fill="#0cb0b6" font-size="4.5" font-family="Liberation Sans" text-anchor="middle">615</text>
<text x="9.50" y="496.1" fill="#e6e6e6" font-size="9.39" font-family="Liberation Serif" text-anchor="middle" textLength="6.80" lengthAdjust="spacingAndGlyphs">16</text>
<path d="M12.9,494 L21.5,494 L40,482" stroke="#0cb0b6" stroke-width="1.1" fill="none" />
<text x="150.05" y="536.10" fill="#dada12" stroke="#dada12" stroke-width="0.18" font-size="9.88" font-family="Liberation Sans" text-anchor="middle" textLength="39.50" lengthAdjust="spacingAndGlyphs">TOP VIEW</text>
<text x="149.10" y="548.50" fill="#dada12" stroke="#dada12" stroke-width="0.18" font-size="10.47" font-family="Liberation Sans" text-anchor="middle" textLength="78.60" lengthAdjust="spacingAndGlyphs">(CLOSE THE DOOR)</text>
<path d="M452.5,371 V357.5 H673.75 V371" stroke="#0cb0b6" stroke-width="1" fill="none" />
<text x="563" y="356" fill="#0cb0b6" font-size="4.5" font-family="Liberation Sans" text-anchor="middle" >1550</text>
<line x1="452.5" y1="371.5" x2="673.75" y2="371.5" stroke="#d2d2d2" stroke-width="1.3" />
<line x1="452.5" y1="371" x2="452.5" y2="479" stroke="#d2d2d2" stroke-width="1.3" />
<line x1="673.5" y1="371" x2="673.5" y2="484" stroke="#d2d2d2" stroke-width="1.3" />
<rect x="442.5" y="385.5" width="10.0" height="85.0" stroke="#d2d2d2" stroke-width="1.2" fill="none" />
<rect x="446.5" y="392.5" width="6.0" height="72.0" stroke="#d2d2d2" stroke-width="1" fill="none" />
<rect x="443.5" y="392" width="2.5" height="72" fill="#f01010" />
<rect x="453" y="476" width="110" height="2.6" fill="#8e6e06" />
<line x1="455" y1="477.5" x2="561" y2="477.5" stroke="#6a5000" stroke-width="0.6" stroke-dasharray="1,2"/>
<line x1="563.5" y1="371" x2="563.5" y2="480" stroke="#8e6e06" stroke-width="1.2" />
<line x1="565.5" y1="371" x2="565.5" y2="480" stroke="#8e6e06" stroke-width="1" />
<line x1="655.5" y1="371" x2="655.5" y2="480" stroke="#8e6e06" stroke-width="1" />
<line x1="658.5" y1="371" x2="658.5" y2="480" stroke="#8e6e06" stroke-width="1.2" />
<rect x="566.5" y="373.5" width="89.0" height="103.0" stroke="#8e6e06" stroke-width="1.2" fill="none" />
<line x1="567" y1="473.5" x2="655" y2="473.5" stroke="#8e6e06" stroke-width="1" />
<line x1="564.5" y1="374" x2="564.5" y2="476" stroke="#4ab8c0" stroke-width="0.8" stroke-dasharray="1,2"/>
<line x1="657.5" y1="374" x2="657.5" y2="476" stroke="#4ab8c0" stroke-width="0.8" stroke-dasharray="1,2"/>
<rect x="556.8" y="383.9" width="6" height="7" fill="#0e4a18" stroke="#7a7a10" stroke-width="0.9"/>
<rect x="558.3" y="385.4" width="3" height="4" fill="#2a8a2a" />
<rect x="556.8" y="457.0" width="6" height="7" fill="#0e4a18" stroke="#7a7a10" stroke-width="0.9"/>
<rect x="558.3" y="458.5" width="3" height="4" fill="#2a8a2a" />
<rect x="658" y="383.9" width="6" height="7" fill="#0e4a18" stroke="#7a7a10" stroke-width="0.9"/>
<rect x="659.5" y="385.4" width="3" height="4" fill="#2a8a2a" />
<rect x="658" y="457.0" width="6" height="7" fill="#0e4a18" stroke="#7a7a10" stroke-width="0.9"/>
<rect x="659.5" y="458.5" width="3" height="4" fill="#2a8a2a" />
<path d="M568,375 l2,2 M654,375 l-2,2 M568,471 l2,-2 M654,471 l-2,-2" stroke="#e4143c" stroke-width="0.8" fill="none" />
<rect x="453" y="483.8" width="108" height="4.6" fill="#c21ec6" />
<line x1="456" y1="486.5" x2="560" y2="486.5" stroke="#a8b8e8" stroke-width="1.2" stroke-dasharray="1.5,0.8"/>
<line x1="456" y1="484.5" x2="548" y2="484.5" stroke="#f070f0" stroke-width="0.8" stroke-dasharray="1,1"/>
<line x1="551" y1="484.5" x2="563" y2="484.5" stroke="#1ec81e" stroke-width="1.3" />
<circle cx="553" cy="490" r="1.6" stroke="#1ec81e" stroke-width="0.9" fill="none" />
<rect x="563" y="485" width="105" height="2.5" fill="#7ccfd6" />
<line x1="565" y1="484.5" x2="668" y2="484.5" stroke="#e0f0f0" stroke-width="1" />
<path d="M450,481 a3.5,3.5 0 1 1 7,0" stroke="#126a18" stroke-width="1.8" fill="none" />
<rect x="452" y="486" width="4" height="3" fill="#e4143c" />
<path d="M668,480 h8 v6 h-8 z" stroke="#126a18" stroke-width="1.5" fill="none" />
<rect x="670" y="485" width="5" height="4" fill="#e4143c" />
<line x1="670.5" y1="486" x2="670.5" y2="597.5" stroke="#1ec81e" stroke-width="1.5" />
<line x1="674.5" y1="486" x2="674.5" y2="591" stroke="#1ec81e" stroke-width="1.5" />
<line x1="670" y1="591.5" x2="674" y2="591.5" stroke="#1ec81e" stroke-width="1" />
<line x1="672.5" y1="488" x2="672.5" y2="590" stroke="#0e5a14" stroke-width="0.8" stroke-dasharray="2,2"/>
<path d="M667,537.5 h6 v2.5 l-3,1 v5" stroke="#f0880c" stroke-width="1.8" fill="none" />
<path d="M505,481 h3 v8" stroke="#f0880c" stroke-width="2" fill="none" />
<circle cx="507" cy="488" r="1.8" stroke="#f0880c" stroke-width="0" fill="#f0880c" />
<path d="M675,484 H688.75 V371 H675" stroke="#0cb0b6" stroke-width="1" fill="none" />
<text transform="translate(687,427) rotate(-90)" fill="#0cb0b6" font-size="4.5" font-family="Liberation Sans" text-anchor="middle">615</text>
<text x="412.40" y="431.9" fill="#e6e6e6" font-size="9.39" font-family="Liberation Serif" text-anchor="middle" textLength="6.20" lengthAdjust="spacingAndGlyphs">15</text>
<path d="M415.5,430.2 L424,430.2 L443.5,418" stroke="#0cb0b6" stroke-width="1.1" fill="none" />
<text x="519.00" y="432" fill="#e6e6e6" font-size="9.39" font-family="Liberation Serif" text-anchor="middle" textLength="7.00" lengthAdjust="spacingAndGlyphs">11</text>
<path d="M522.5,430 L530,430 L564,405" stroke="#0cb0b6" stroke-width="1.1" fill="none" />
<text x="615.60" y="454.2" fill="#e6e6e6" font-size="9.39" font-family="Liberation Serif" text-anchor="middle" textLength="25.60" lengthAdjust="spacingAndGlyphs">12,13,14</text>
<path d="M628.4,452.5 L637.5,452.5 L657,460.5" stroke="#0cb0b6" stroke-width="1.1" fill="none" />
<text x="422.25" y="496.5" fill="#e6e6e6" font-size="9.39" font-family="Liberation Serif" text-anchor="middle" textLength="7.50" lengthAdjust="spacingAndGlyphs">16</text>
<path d="M427,494 L435,494 L455,481" stroke="#0cb0b6" stroke-width="1.1" fill="none" />
<text x="405.40" y="554.4" fill="#e6e6e6" font-size="9.85" font-family="Liberation Serif" text-anchor="middle" textLength="3.80" lengthAdjust="spacingAndGlyphs">3</text>
<path d="M408,551.6 L416.5,551.6 L452,527" stroke="#0cb0b6" stroke-width="1.1" fill="none" />
<text x="719.90" y="553.8" fill="#e6e6e6" font-size="10.00" font-family="Liberation Serif" text-anchor="middle" textLength="4.00" lengthAdjust="spacingAndGlyphs">2</text>
<path d="M675,527 L709.3,551.5 L717.9,551.5" stroke="#0cb0b6" stroke-width="1.1" fill="none" />
<text x="548.85" y="511" fill="#dada12" stroke="#dada12" stroke-width="0.1" font-size="8.8" font-family="Liberation Serif" text-anchor="middle" textLength="34.5" lengthAdjust="spacingAndGlyphs">SECTION</text>
<line x1="527.8" y1="511.5" x2="590" y2="511.5" stroke="#dada12" stroke-width="1.2" />
<circle cx="579" cy="511.6" r="10.65" stroke="#dada12" stroke-width="1.4" fill="none" />
<text x="578.6" y="510.2" fill="#dada12" stroke="#dada12" stroke-width="0.3" font-size="8.8" font-family="Liberation Serif" text-anchor="middle" textLength="13.2" lengthAdjust="spacingAndGlyphs">A-A</text>
<circle cx="578.6" cy="514.5" r="0.6" stroke="#dada12" stroke-width="0" fill="#dada12" />
</svg>
</body></html>
